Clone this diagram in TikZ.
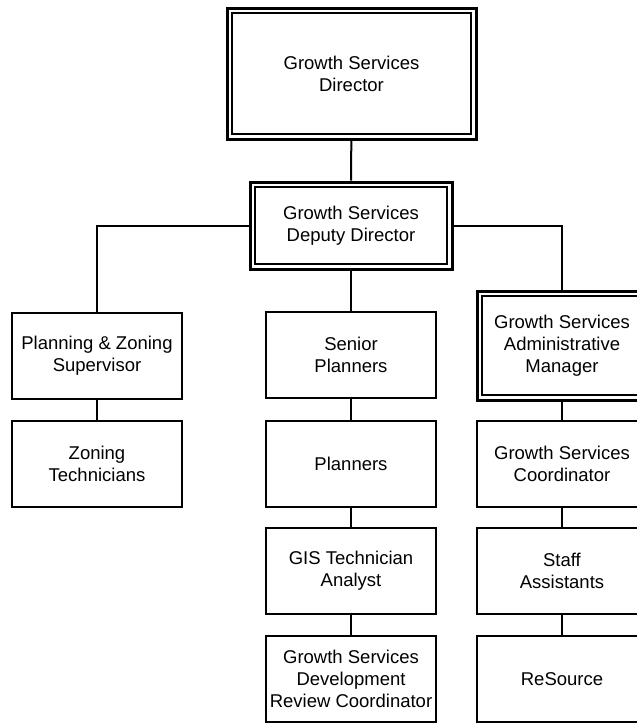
\documentclass[tikz,border=0pt]{standalone}
\usepackage{fontspec}
\setmainfont{Liberation Sans}
\begin{document}
\begin{tikzpicture}[x=1pt,y=-1pt,
  box/.style={draw, line width=2pt, minimum width=170pt, minimum height=86pt,
    inner sep=0pt, align=center, font=\fontsize{18.5}{22}\selectfont},
  dblbox/.style={box, line width=3pt,
    path picture={\draw[line width=1.5pt]
      ([xshift=5pt,yshift=-5pt]path picture bounding box.north west) rectangle
      ([xshift=-5pt,yshift=5pt]path picture bounding box.south east);}},
  link/.style={line width=2pt}]
\useasboundingbox (0,0) rectangle (637,728);
\clip (0,0) rectangle (637,728);

% top of the chart
\node[dblbox, minimum width=249pt, minimum height=131pt] (director) at (351.5,73.5)
  {Growth Services\\Director};
\node[dblbox, minimum width=202pt, minimum height=87pt] (deputy) at (351,225.5)
  {Growth Services\\Deputy Director};

% left column
\node[box] (planning) at (97,356) {Planning \& Zoning\\Supervisor};
\node[box] (zoning) at (97,464) {Zoning\\Technicians};

% middle column
\node[box] (senior) at (351,355) {Senior\\Planners};
\node[box] (planners) at (351,464) {Planners};
\node[box] (gis) at (351,570.5) {GIS Technician\\Analyst};
\node[box] (devrev) at (351,679) {Growth Services\\Development\\Review Coordinator};

% right column
\node[dblbox, minimum height=109pt] (admin) at (562,345.5)
  {Growth Services\\Administrative\\Manager};
\node[box] (coord) at (562,464) {Growth Services\\Coordinator};
\node[box] (staff) at (562,570.5) {Staff\\Assistants};
\node[box] (resource) at (562,679) {ReSource};

% reporting lines
\draw[link] (director) -- (deputy);
\draw[link] (deputy.west) -| (planning.north);
\draw[link] (deputy.east) -| (admin.north);
\draw[link] (deputy) -- (senior);
\draw[link] (planning) -- (zoning);
\draw[link] (senior) -- (planners);
\draw[link] (planners) -- (gis);
\draw[link] (gis) -- (devrev);
\draw[link] (admin) -- (coord);
\draw[link] (coord) -- (staff);
\draw[link] (staff) -- (resource);
\end{tikzpicture}
\end{document}
